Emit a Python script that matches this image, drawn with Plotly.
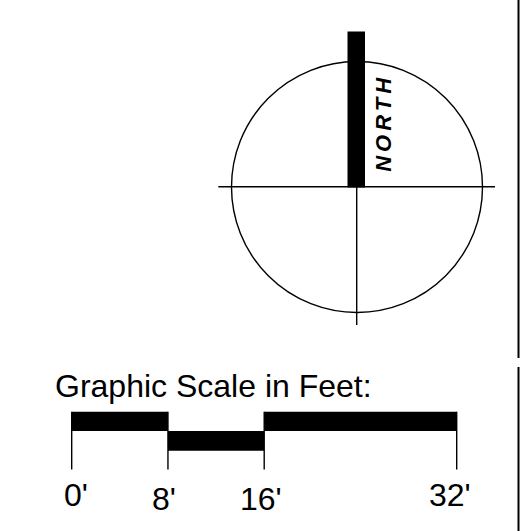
import plotly.graph_objects as go

# ---------------- data ----------------
scale_title = "Graphic Scale in Feet:"
scale_ticks_ft = [0, 8, 16, 32]
scale_labels = ["0'", "8'", "16'", "32'"]
segment_start_ft = [0, 8, 16]
segment_end_ft = [8, 16, 32]
segment_row = ["upper", "lower", "upper"]
north_label = "NORTH"

# ---------------- layout constants (page pixels) ----------------
W, H = 520, 531
FT0_PX, FT32_PX = 71.7, 456.7
px_per_ft = (FT32_PX - FT0_PX) / 32.0
x2_range = [(0 - FT0_PX) / px_per_ft, (W - FT0_PX) / px_per_ft]

cx, cy, r = 357.0, 187.0, 125.5
row_y = {"upper": (411.7, 431.0), "lower": (431.0, 450.7)}
tick_top, tick_bottom = 411.7, 469.5
label_y = [495.0, 498.6, 498.6, 495.0]
label_shift = [4, -4, -3, -7]

font_family = "Liberation Sans, Arial, sans-serif"

shapes = []
# compass circle
shapes.append(dict(type="circle", xref="x", yref="y", x0=cx - r, x1=cx + r,
                   y0=cy - r, y1=cy + r, line=dict(color="black", width=1.4)))
# crosshair
shapes.append(dict(type="line", xref="x", yref="y", x0=218.3, x1=495.0, y0=186.7, y1=186.7,
                   line=dict(color="black", width=1.4)))
shapes.append(dict(type="line", xref="x", yref="y", x0=356.7, x1=356.7, y0=187.0, y1=325.0,
                   line=dict(color="black", width=1.4)))
# north bar
shapes.append(dict(type="rect", xref="x", yref="y", x0=347.5, x1=365.0, y0=31.5, y1=187.5,
                   fillcolor="black", line=dict(width=0)))
# right border
shapes.append(dict(type="line", xref="x", yref="y", x0=518.5, x1=518.5, y0=0, y1=358,
                   line=dict(color="black", width=2)))
shapes.append(dict(type="line", xref="x", yref="y", x0=518.5, x1=518.5, y0=367, y1=531,
                   line=dict(color="black", width=2)))

# scale bar segments
for s, e, row in zip(segment_start_ft, segment_end_ft, segment_row):
    y0, y1 = row_y[row]
    shapes.append(dict(type="rect", xref="x2", yref="y", x0=s, x1=e, y0=y0, y1=y1,
                       fillcolor="black", line=dict(width=0)))
# ticks
for t in scale_ticks_ft:
    shapes.append(dict(type="line", xref="x2", yref="y", x0=t, x1=t, y0=tick_top, y1=tick_bottom,
                       line=dict(color="black", width=1.4)))

annotations = []
annotations.append(dict(text=scale_title, xref="x", yref="y", x=53, y=385.6,
                        xanchor="left", yanchor="middle", showarrow=False,
                        font=dict(family=font_family, size=32, color="black")))
for t, lab, ly, sh in zip(scale_ticks_ft, scale_labels, label_y, label_shift):
    annotations.append(dict(text=lab, xref="x2", yref="y", x=t, y=ly, xshift=sh,
                            xanchor="center", yanchor="middle", showarrow=False,
                            font=dict(family=font_family, size=32, color="black")))
annotations.append(dict(text='<span style="letter-spacing:4px">' + north_label + '</span>',
                        xref="x", yref="y", x=383.5, y=123.3, textangle=-90,
                        xanchor="center", yanchor="middle", showarrow=False,
                        font=dict(family=font_family, size=22, color="black",
                                  weight="bold", style="italic")))

fig = go.Figure()
fig.add_trace(go.Scatter(x=[None], y=[None], xaxis="x", yaxis="y", showlegend=False, hoverinfo="skip"))
fig.add_trace(go.Scatter(x=[None], y=[None], xaxis="x2", yaxis="y", showlegend=False, hoverinfo="skip"))

fig.update_layout(
    width=W, height=H, autosize=False,
    margin=dict(l=0, r=0, t=0, b=0, pad=0),
    paper_bgcolor="white", plot_bgcolor="white",
    xaxis=dict(range=[0, W], visible=False, fixedrange=True),
    xaxis2=dict(range=x2_range, visible=False, overlaying="x", anchor="y", fixedrange=True),
    yaxis=dict(range=[H, 0], visible=False, fixedrange=True),
    shapes=shapes, annotations=annotations, showlegend=False,
)

fig.write_html(
    "out.html",
    config={"displayModeBar": False},
    post_script="document.body.style.margin='0';document.body.style.overflow='hidden';",
)
